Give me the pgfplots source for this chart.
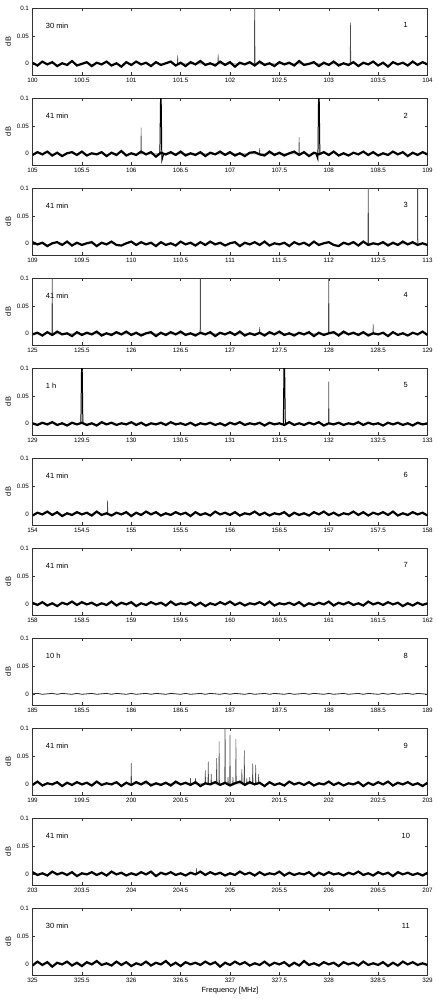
\documentclass[border=0pt]{standalone}
\usepackage{fontspec}
\setmainfont{Liberation Sans}
\usepackage{pgfplots}
\pgfplotsset{compat=1.18}
\newcommand\lab{\fontsize{7.5}{9}\selectfont}
\newcommand\tlab{\fontsize{6.3}{7.5}\selectfont}
\pgfplotsset{
  panel/.style={
    scale only axis, width=395bp, height=67bp, anchor=north west,
    ymin=-0.02, ymax=0.1, ytick={0,0.05,0.1},
    xtick distance=0.5, scaled ticks=false,
    axis line style={black!80, line width=0.5pt},
    major tick length=3bp,
    tick style={black!80, line width=0.4pt},
    ticklabel style={font=\tlab},
    /pgf/number format/assume math mode=true,
    x tick label style={/pgf/number format/.cd, fixed, precision=1, /tikz/.cd},
    y tick label style={/pgf/number format/.cd, fixed, precision=2, /tikz/.cd},
    ylabel={dB}, ylabel style={font=\lab, yshift=-1bp},
    clip=true,
  },
  noise/.style={black, line width=2.2pt, line join=miter, miter limit=3},
  peak/.style={black!70, line width=0.5pt},
  bigpeak/.style={black, line width=1.0pt},
}
\begin{document}
\begin{tikzpicture}
% ---------- 1
\begin{axis}[panel, at={(0bp,0bp)}, xmin=100, xmax=104]
\addplot[peak] coordinates {(101.466,0)(101.47,0.015)(101.474,0)(101.876,0)(101.88,0.018)(101.884,0)(102.246,0)(102.25,0.15)(102.254,0)(103.216,0)(103.22,0.074)(103.224,0)};
\addplot[noise] coordinates {(100,0.002)(100.05,-0.003)(100.1,0.004)(100.15,-0.001)(100.2,0.003)(100.25,-0.004)(100.3,0.001)(100.35,-0.002)(100.4,0.005)
(100.45,-0.003)(100.5,0)(100.55,0.003)(100.6,-0.004)(100.65,0.002)(100.7,-0.001)(100.75,0.004)(100.8,-0.003)(100.85,0.001)
(100.9,-0.005)(100.95,0.003)(101,-0.002)(101.05,0.004)(101.1,-0.001)(101.15,0.002)(101.2,-0.004)(101.25,0.003)(101.3,-0.002)
(101.35,0.001)(101.4,0.004)(101.45,-0.003)(101.5,0.002)(101.55,-0.004)(101.6,0.003)(101.65,-0.001)(101.7,0.005)(101.75,-0.002)
(101.8,0.001)(101.85,-0.003)(101.9,0.004)(101.95,-0.002)(102,0.003)(102.05,-0.005)(102.1,0.002)(102.15,-0.001)(102.2,0.003)
(102.25,-0.003)(102.3,0.004)(102.35,-0.002)(102.4,0.001)(102.45,-0.004)(102.5,0.003)(102.55,-0.001)(102.6,0.002)(102.65,-0.003)
(102.7,0.005)(102.75,-0.002)(102.8,0)(102.85,0.003)(102.9,-0.004)(102.95,0.002)(103,-0.002)(103.05,0.004)(103.1,-0.003)
(103.15,0.001)(103.2,-0.002)(103.25,0.003)(103.3,-0.004)(103.35,0.002)(103.4,-0.001)(103.45,0.004)(103.5,-0.003)(103.55,0.002)
(103.6,-0.005)(103.65,0.003)(103.7,-0.001)(103.75,0.002)(103.8,-0.003)(103.85,0.004)(103.9,-0.002)(103.95,0.003)(104,-0.001)};
\node[anchor=west,font=\lab] at (rel axis cs:0.025,0.74) {30 min};
\node[font=\lab] at (rel axis cs:0.945,0.74) {1};
\end{axis}
% ---------- 2
\begin{axis}[panel, at={(0bp,-90bp)}, xmin=105, xmax=109]
\addplot[peak] coordinates {(106.096,0)(106.1,0.047)(106.104,0)(107.296,0)(107.3,0.01)(107.304,0)(107.696,0)(107.7,0.03)(107.704,0)};
\addplot[bigpeak] coordinates {(106.29,0)(106.3,0.15)(106.31,-0.012)(106.33,0)};
\addplot[bigpeak] coordinates {(107.87,0)(107.89,-0.01)(107.9,0.15)(107.91,0)};
\addplot[noise] coordinates {(105,-0.002)(105.05,0.003)(105.1,-0.001)(105.15,0.004)(105.2,-0.003)(105.25,0.002)(105.3,-0.004)(105.35,0.001)(105.4,0.003)
(105.45,-0.002)(105.5,0.004)(105.55,-0.003)(105.6,0.001)(105.65,-0.001)(105.7,0.003)(105.75,-0.004)(105.8,0.002)(105.85,-0.002)
(105.9,0.005)(105.95,-0.003)(106,0.001)(106.05,-0.002)(106.1,0.004)(106.15,-0.001)(106.2,0.003)(106.25,-0.005)(106.3,0.002)
(106.35,-0.001)(106.4,0.003)(106.45,-0.002)(106.5,0.004)(106.55,-0.003)(106.6,0.001)(106.65,-0.002)(106.7,0.003)(106.75,-0.004)
(106.8,0.002)(106.85,-0.001)(106.9,0.004)(106.95,-0.002)(107,0.003)(107.05,-0.003)(107.1,0.001)(107.15,-0.004)(107.2,0.002)
(107.25,0.003)(107.3,-0.001)(107.35,-0.003)(107.4,0.004)(107.45,-0.002)(107.5,0.002)(107.55,-0.003)(107.6,0.001)(107.65,0.004)
(107.7,-0.002)(107.75,0.003)(107.8,-0.004)(107.85,0.002)(107.9,-0.001)(107.95,0.003)(108,-0.002)(108.05,0.004)(108.1,-0.003)
(108.15,0.001)(108.2,-0.003)(108.25,0.002)(108.3,-0.001)(108.35,0.004)(108.4,-0.002)(108.45,0.003)(108.5,-0.003)(108.55,0.001)
(108.6,-0.002)(108.65,0.004)(108.7,-0.001)(108.75,0.003)(108.8,-0.004)(108.85,0.002)(108.9,-0.002)(108.95,0.003)(109,-0.001)};
\node[anchor=west,font=\lab] at (rel axis cs:0.025,0.74) {41 min};
\node[font=\lab] at (rel axis cs:0.945,0.74) {2};
\end{axis}
% ---------- 3
\begin{axis}[panel, at={(0bp,-180bp)}, xmin=109, xmax=113]
\addplot[peak] coordinates {(112.396,0)(112.4,0.15)(112.404,0)(112.896,0)(112.9,0.15)(112.904,0)};
\addplot[noise] coordinates {(109,0.003)(109.05,-0.001)(109.1,0.002)(109.15,-0.004)(109.2,0.001)(109.25,0.003)(109.3,-0.002)(109.35,0.004)(109.4,-0.003)
(109.45,0.002)(109.5,-0.002)(109.55,0.001)(109.6,0.003)(109.65,-0.004)(109.7,0.002)(109.75,-0.001)(109.8,0.004)(109.85,-0.002)
(109.9,-0.003)(109.95,0.001)(110,0.004)(110.05,-0.002)(110.1,0.003)(110.15,-0.001)(110.2,0.002)(110.25,-0.004)(110.3,0.003)
(110.35,-0.002)(110.4,0.001)(110.45,-0.003)(110.5,0.004)(110.55,-0.001)(110.6,0.002)(110.65,-0.003)(110.7,0.003)(110.75,-0.002)
(110.8,0.004)(110.85,-0.001)(110.9,0.002)(110.95,-0.003)(111,0.001)(111.05,0.003)(111.1,-0.004)(111.15,0.002)(111.2,-0.001)
(111.25,0.003)(111.3,-0.002)(111.35,0.004)(111.4,-0.003)(111.45,0.001)(111.5,-0.001)(111.55,0.002)(111.6,-0.004)(111.65,0.003)
(111.7,-0.001)(111.75,0.002)(111.8,-0.003)(111.85,0.004)(111.9,-0.002)(111.95,0.001)(112,0.003)(112.05,-0.002)(112.1,-0.004)
(112.15,0.002)(112.2,-0.001)(112.25,0.003)(112.3,-0.003)(112.35,0.004)(112.4,-0.002)(112.45,0.001)(112.5,-0.001)(112.55,0.003)
(112.6,-0.003)(112.65,0.002)(112.7,-0.002)(112.75,0.004)(112.8,-0.001)(112.85,0.003)(112.9,-0.002)(112.95,0.001)(113,-0.002)};
\node[anchor=west,font=\lab] at (rel axis cs:0.025,0.74) {41 min};
\node[font=\lab] at (rel axis cs:0.945,0.74) {3};
\end{axis}
% ---------- 4
\begin{axis}[panel, at={(0bp,-270bp)}, xmin=125, xmax=129]
\addplot[peak] coordinates {(125.196,0)(125.2,0.15)(125.204,0)(126.696,0)(126.7,0.15)(126.704,0)(127.296,0)(127.3,0.012)(127.304,0)(127.996,0)(128,0.15)(128.004,0)(128.446,0)(128.45,0.018)(128.454,0)};
\addplot[noise] coordinates {(125,-0.001)(125.05,0.002)(125.1,-0.003)(125.15,0.003)(125.2,-0.002)(125.25,0.004)(125.3,-0.001)(125.35,0.001)(125.4,-0.004)
(125.45,0.003)(125.5,-0.002)(125.55,0.002)(125.6,-0.001)(125.65,0.004)(125.7,-0.003)(125.75,0.001)(125.8,-0.002)(125.85,0.003)
(125.9,-0.001)(125.95,0.004)(126,-0.002)(126.05,0.002)(126.1,-0.003)(126.15,0.001)(126.2,0.003)(126.25,-0.004)(126.3,0.002)
(126.35,-0.002)(126.4,0.003)(126.45,-0.001)(126.5,0.004)(126.55,-0.002)(126.6,0.001)(126.65,-0.003)(126.7,0.002)(126.75,-0.001)
(126.8,0.003)(126.85,-0.004)(126.9,0.002)(126.95,-0.001)(127,0.003)(127.05,-0.002)(127.1,0.004)(127.15,-0.003)(127.2,0.001)
(127.25,-0.002)(127.3,0.002)(127.35,-0.003)(127.4,0.003)(127.45,-0.001)(127.5,0.004)(127.55,-0.002)(127.6,0.001)(127.65,-0.003)
(127.7,0.002)(127.75,-0.001)(127.8,0.003)(127.85,-0.004)(127.9,0.002)(127.95,-0.002)(128,0.001)(128.05,0.003)(128.1,-0.003)
(128.15,0.004)(128.2,-0.001)(128.25,0.002)(128.3,-0.002)(128.35,0.003)(128.4,-0.003)(128.45,0.001)(128.5,-0.001)(128.55,0.002)
(128.6,-0.004)(128.65,0.003)(128.7,-0.002)(128.75,0.001)(128.8,-0.003)(128.85,0.002)(128.9,-0.001)(128.95,0.004)(129,-0.002)};
\node[anchor=west,font=\lab] at (rel axis cs:0.025,0.74) {41 min};
\node[font=\lab] at (rel axis cs:0.945,0.74) {4};
\end{axis}
% ---------- 5
\begin{axis}[panel, at={(0bp,-360bp)}, xmin=129, xmax=133]
\addplot[bigpeak] coordinates {(129.49,0)(129.5,0.15)(129.51,0)};
\addplot[bigpeak] coordinates {(131.54,0)(131.55,0.15)(131.56,0)};
\addplot[peak] coordinates {(131.996,0)(132,0.0755)(132.004,0)};
\addplot[noise] coordinates {(129,0.001)(129.05,-0.002)(129.1,0.002)(129.15,-0.001)(129.2,0.003)(129.25,-0.002)(129.3,0.001)(129.35,-0.003)(129.4,0.002)
(129.45,-0.001)(129.5,0.002)(129.55,-0.002)(129.6,0.001)(129.65,-0.003)(129.7,0.003)(129.75,-0.001)(129.8,0.002)(129.85,-0.002)
(129.9,0.001)(129.95,-0.001)(130,0.003)(130.05,-0.002)(130.1,0.002)(130.15,-0.003)(130.2,0.001)(130.25,-0.001)(130.3,0.002)
(130.35,-0.002)(130.4,0.003)(130.45,-0.001)(130.5,0.001)(130.55,-0.002)(130.6,0.002)(130.65,-0.003)(130.7,0.001)(130.75,-0.001)
(130.8,0.002)(130.85,-0.002)(130.9,0.001)(130.95,-0.003)(131,0.002)(131.05,-0.001)(131.1,0.003)(131.15,-0.002)(131.2,0.001)
(131.25,-0.001)(131.3,0.002)(131.35,-0.003)(131.4,0.002)(131.45,-0.001)(131.5,0.001)(131.55,-0.002)(131.6,0.003)(131.65,-0.002)
(131.7,0.001)(131.75,-0.002)(131.8,0.002)(131.85,-0.001)(131.9,0.003)(131.95,-0.003)(132,0.001)(132.05,-0.001)(132.1,0.002)
(132.15,-0.002)(132.2,0.001)(132.25,-0.001)(132.3,0.003)(132.35,-0.002)(132.4,0.002)(132.45,-0.001)(132.5,0.001)(132.55,-0.003)
(132.6,0.002)(132.65,-0.001)(132.7,0.002)(132.75,-0.002)(132.8,0.001)(132.85,-0.003)(132.9,0.002)(132.95,-0.001)(133,0.001)};
\node[anchor=west,font=\lab] at (rel axis cs:0.025,0.74) {1 h};
\node[font=\lab] at (rel axis cs:0.945,0.74) {5};
\end{axis}
% ---------- 6
\begin{axis}[panel, at={(0bp,-450bp)}, xmin=154, xmax=158]
\addplot[peak] coordinates {(154.756,0)(154.76,0.024)(154.764,0)};
\addplot[noise] coordinates {(154,-0.003)(154.05,0.002)(154.1,-0.001)(154.15,0.004)(154.2,-0.002)(154.25,0.003)(154.3,-0.004)(154.35,0.001)(154.4,-0.002)
(154.45,0.003)(154.5,-0.001)(154.55,0.002)(154.6,-0.003)(154.65,0.004)(154.7,-0.002)(154.75,0.001)(154.8,-0.003)(154.85,0.002)
(154.9,-0.001)(154.95,0.003)(155,-0.004)(155.05,0.002)(155.1,-0.002)(155.15,0.004)(155.2,-0.001)(155.25,0.003)(155.3,-0.003)
(155.35,0.001)(155.4,-0.002)(155.45,0.003)(155.5,-0.001)(155.55,0.002)(155.6,-0.004)(155.65,0.003)(155.7,-0.002)(155.75,0.001)
(155.8,-0.003)(155.85,0.004)(155.9,-0.001)(155.95,0.002)(156,-0.002)(156.05,0.003)(156.1,-0.003)(156.15,0.001)(156.2,-0.001)
(156.25,0.004)(156.3,-0.002)(156.35,0.002)(156.4,-0.003)(156.45,0.001)(156.5,-0.001)(156.55,0.003)(156.6,-0.004)(156.65,0.002)
(156.7,-0.002)(156.75,0.001)(156.8,-0.003)(156.85,0.003)(156.9,-0.001)(156.95,0.004)(157,-0.002)(157.05,0.002)(157.1,-0.003)
(157.15,0.001)(157.2,-0.001)(157.25,0.004)(157.3,-0.002)(157.35,0.003)(157.4,-0.003)(157.45,0.002)(157.5,-0.001)(157.55,0.003)
(157.6,-0.002)(157.65,0.004)(157.7,-0.003)(157.75,0.001)(157.8,-0.002)(157.85,0.003)(157.9,-0.001)(157.95,0.002)(158,-0.003)};
\node[anchor=west,font=\lab] at (rel axis cs:0.025,0.74) {41 min};
\node[font=\lab] at (rel axis cs:0.945,0.74) {6};
\end{axis}
% ---------- 7
\begin{axis}[panel, at={(0bp,-540bp)}, xmin=158, xmax=162]
\addplot[noise] coordinates {(158,0.002)(158.05,-0.002)(158.1,0.003)(158.15,-0.003)(158.2,0.001)(158.25,-0.004)(158.3,0.002)(158.35,-0.001)(158.4,0.004)
(158.45,-0.002)(158.5,0.003)(158.55,-0.001)(158.6,0.002)(158.65,-0.003)(158.7,0.001)(158.75,-0.002)(158.8,0.004)(158.85,-0.003)
(158.9,0.002)(158.95,-0.001)(159,0.003)(159.05,-0.004)(159.1,0.001)(159.15,-0.002)(159.2,0.003)(159.25,-0.001)(159.3,0.002)
(159.35,-0.003)(159.4,0.004)(159.45,-0.002)(159.5,0.001)(159.55,-0.001)(159.6,0.003)(159.65,-0.003)(159.7,0.002)(159.75,-0.004)
(159.8,0.001)(159.85,-0.002)(159.9,0.003)(159.95,-0.001)(160,0.004)(160.05,-0.002)(160.1,0.002)(160.15,-0.003)(160.2,0.001)
(160.25,-0.001)(160.3,0.003)(160.35,-0.002)(160.4,0.004)(160.45,-0.003)(160.5,0.001)(160.55,-0.001)(160.6,0.002)(160.65,-0.002)
(160.7,0.003)(160.75,-0.004)(160.8,0.001)(160.85,-0.002)(160.9,0.002)(160.95,-0.001)(161,0.004)(161.05,-0.003)(161.1,0.002)
(161.15,-0.001)(161.2,0.003)(161.25,-0.002)(161.3,0.001)(161.35,-0.003)(161.4,0.004)(161.45,-0.001)(161.5,0.002)(161.55,-0.002)
(161.6,0.003)(161.65,-0.001)(161.7,0.002)(161.75,-0.004)(161.8,0.001)(161.85,-0.003)(161.9,0.002)(161.95,-0.002)(162,0.001)};
\node[anchor=west,font=\lab] at (rel axis cs:0.025,0.74) {41 min};
\node[font=\lab] at (rel axis cs:0.945,0.74) {7};
\end{axis}
% ---------- 8
\begin{axis}[panel, at={(0bp,-630bp)}, xmin=185, xmax=189]
\addplot[black!85, line width=0.8pt] coordinates {(185,0)(185.05,0.0008)(185.1,-0.0008)(185.15,0)(185.2,0.0008)(185.25,-0.0008)(185.3,0.0008)(185.35,0)(185.4,-0.0008)
(185.45,0.0008)(185.5,-0.0008)(185.55,0)(185.6,0.0008)(185.65,-0.0008)(185.7,0)(185.75,0.0008)(185.8,-0.0008)(185.85,0.0008)
(185.9,0)(185.95,-0.0008)(186,0.0008)(186.05,-0.0008)(186.1,0)(186.15,0.0008)(186.2,-0.0008)(186.25,0.0008)(186.3,0)
(186.35,-0.0008)(186.4,0.0008)(186.45,0)(186.5,-0.0008)(186.55,0.0008)(186.6,-0.0008)(186.65,0)(186.7,0.0008)(186.75,-0.0008)
(186.8,0.0008)(186.85,0)(186.9,-0.0008)(186.95,0.0008)(187,-0.0008)(187.05,0.0008)(187.1,0)(187.15,-0.0008)(187.2,0.0008)
(187.25,-0.0008)(187.3,0)(187.35,0.0008)(187.4,-0.0008)(187.45,0.0008)(187.5,0)(187.55,-0.0008)(187.6,0.0008)(187.65,-0.0008)
(187.7,0)(187.75,0.0008)(187.8,-0.0008)(187.85,0.0008)(187.9,0)(187.95,-0.0008)(188,0.0008)(188.05,-0.0008)(188.1,0)
(188.15,0.0008)(188.2,-0.0008)(188.25,0)(188.3,0.0008)(188.35,-0.0008)(188.4,0.0008)(188.45,0)(188.5,-0.0008)(188.55,0.0008)
(188.6,-0.0008)(188.65,0.0008)(188.7,-0.0008)(188.75,0)(188.8,0.0008)(188.85,-0.0008)(188.9,0.0008)(188.95,0)(189,-0.0008)};
\node[anchor=west,font=\lab] at (rel axis cs:0.025,0.74) {10 h};
\node[font=\lab] at (rel axis cs:0.945,0.74) {8};
\end{axis}
% ---------- 9
\begin{axis}[panel, at={(0bp,-720bp)}, xmin=199, xmax=203]
\addplot[peak] coordinates {(199.996,0)(200,0.037)(200.004,0)
(200.596,0)(200.6,0.01)(200.604,0)(200.646,0)(200.65,0.01)(200.654,0)
(200.746,0)(200.75,0.024)(200.754,0)(200.776,0)(200.78,0.04)(200.784,0)(200.806,0)(200.81,0.018)(200.814,0)
(200.861,0)(200.865,0.046)(200.869,0)(200.886,0)(200.89,0.076)(200.894,0)(200.946,0)(200.95,0.15)(200.954,0)
(200.976,0)(200.98,0.012)(200.984,0)(200.996,0)(201,0.0875)(201.004,0)(201.026,0)(201.03,0.012)(201.034,0)
(201.056,0)(201.06,0.08)(201.064,0)(201.116,0)(201.12,0.027)(201.124,0)(201.141,0)(201.145,0.06)(201.149,0)
(201.166,0)(201.17,0.01)(201.174,0)(201.196,0)(201.2,0.012)(201.204,0)(201.226,0)(201.23,0.036)(201.234,0)
(201.256,0)(201.26,0.034)(201.264,0)(201.286,0)(201.29,0.018)(201.294,0)};
\addplot[noise] coordinates {(199,-0.002)(199.05,0.004)(199.1,-0.003)(199.15,0.001)(199.2,-0.001)(199.25,0.003)(199.3,-0.004)(199.35,0.002)(199.4,-0.002)
(199.45,0.003)(199.5,-0.001)(199.55,0.002)(199.6,-0.003)(199.65,0.004)(199.7,-0.002)(199.75,0.001)(199.8,-0.001)(199.85,0.003)
(199.9,-0.004)(199.95,0.002)(200,-0.002)(200.05,0.003)(200.1,-0.001)(200.15,0.004)(200.2,-0.003)(200.25,0.001)(200.3,-0.002)
(200.35,0.002)(200.4,-0.003)(200.45,0.004)(200.5,-0.001)(200.55,0.002)(200.6,-0.002)(200.65,0.003)(200.7,-0.004)(200.75,0.001)
(200.8,-0.001)(200.85,0.003)(200.9,-0.002)(200.95,0.002)(201,-0.003)(201.05,0.001)(201.1,0.004)(201.15,-0.002)(201.2,0.003)
(201.25,-0.001)(201.3,0.002)(201.35,-0.004)(201.4,0.003)(201.45,-0.002)(201.5,0.001)(201.55,-0.003)(201.6,0.004)(201.65,-0.001)
(201.7,0.002)(201.75,-0.002)(201.8,0.003)(201.85,-0.003)(201.9,0.001)(201.95,-0.001)(202,0.004)(202.05,-0.002)(202.1,0.002)
(202.15,-0.003)(202.2,0.001)(202.25,-0.001)(202.3,0.003)(202.35,-0.004)(202.4,0.002)(202.45,-0.002)(202.5,0.003)(202.55,-0.001)
(202.6,0.004)(202.65,-0.003)(202.7,0.002)(202.75,-0.001)(202.8,0.003)(202.85,-0.002)(202.9,0.001)(202.95,-0.004)(203,0.002)};
\node[anchor=west,font=\lab] at (rel axis cs:0.025,0.74) {41 min};
\node[font=\lab] at (rel axis cs:0.945,0.74) {9};
\end{axis}
% ---------- 10
\begin{axis}[panel, at={(0bp,-810bp)}, xmin=203, xmax=207]
\addplot[peak] coordinates {(204.656,0)(204.66,0.01)(204.664,0)};
\addplot[noise] coordinates {(203,0.003)(203.05,-0.002)(203.1,0.001)(203.15,-0.003)(203.2,0.004)(203.25,-0.001)(203.3,0.002)(203.35,-0.002)(203.4,0.003)
(203.45,-0.004)(203.5,0.001)(203.55,-0.001)(203.6,0.003)(203.65,-0.002)(203.7,0.002)(203.75,-0.003)(203.8,0.004)(203.85,-0.001)
(203.9,0.002)(203.95,-0.003)(204,0.001)(204.05,-0.002)(204.1,0.003)(204.15,-0.001)(204.2,0.004)(204.25,-0.004)(204.3,0.002)
(204.35,-0.001)(204.4,0.003)(204.45,-0.002)(204.5,0.001)(204.55,-0.003)(204.6,0.002)(204.65,-0.001)(204.7,0.004)(204.75,-0.002)
(204.8,0.003)(204.85,-0.001)(204.9,0.002)(204.95,-0.003)(205,0.001)(205.05,-0.002)(205.1,0.004)(205.15,-0.001)(205.2,0.002)
(205.25,-0.003)(205.3,0.003)(205.35,-0.002)(205.4,0.001)(205.45,-0.001)(205.5,0.004)(205.55,-0.003)(205.6,0.002)(205.65,-0.002)
(205.7,0.001)(205.75,-0.001)(205.8,0.003)(205.85,-0.004)(205.9,0.002)(205.95,-0.002)(206,0.003)(206.05,-0.001)(206.1,0.001)
(206.15,-0.003)(206.2,0.002)(206.25,-0.001)(206.3,0.004)(206.35,-0.002)(206.4,0.001)(206.45,-0.003)(206.5,0.003)(206.55,-0.001)
(206.6,0.002)(206.65,-0.004)(206.7,0.003)(206.75,-0.001)(206.8,0.002)(206.85,-0.002)(206.9,0.001)(206.95,-0.003)(207,0.002)};
\node[anchor=west,font=\lab] at (rel axis cs:0.025,0.74) {41 min};
\node[font=\lab] at (rel axis cs:0.945,0.74) {10};
\end{axis}
% ---------- 11
\begin{axis}[panel, at={(0bp,-900bp)}, xmin=325, xmax=329, xlabel={Frequency [MHz]}, xlabel style={font=\lab, inner sep=1bp, yshift=0bp}]
\addplot[noise] coordinates {(325,-0.003)(325.05,0.004)(325.1,-0.002)(325.15,0.003)(325.2,-0.005)(325.25,0.002)(325.3,-0.001)(325.35,0.004)(325.4,-0.003)
(325.45,0.002)(325.5,-0.004)(325.55,0.003)(325.6,-0.001)(325.65,0.005)(325.7,-0.002)(325.75,0.001)(325.8,-0.003)(325.85,0.004)
(325.9,-0.002)(325.95,0.003)(326,-0.004)(326.05,0.001)(326.1,-0.002)(326.15,0.004)(326.2,-0.003)(326.25,0.002)(326.3,-0.001)
(326.35,0.005)(326.4,-0.003)(326.45,0.002)(326.5,-0.004)(326.55,0.003)(326.6,-0.001)(326.65,0.002)(326.7,-0.002)(326.75,0.004)
(326.8,-0.001)(326.85,0.003)(326.9,-0.005)(326.95,0.002)(327,-0.002)(327.05,0.004)(327.1,-0.001)(327.15,0.003)(327.2,-0.003)
(327.25,0.001)(327.3,-0.002)(327.35,0.004)(327.4,-0.003)(327.45,0.002)(327.5,-0.001)(327.55,0.003)(327.6,-0.004)(327.65,0.002)
(327.7,-0.003)(327.75,0.005)(327.8,-0.002)(327.85,0.001)(327.9,-0.003)(327.95,0.003)(328,-0.001)(328.05,0.002)(328.1,-0.004)
(328.15,0.003)(328.2,-0.001)(328.25,0.002)(328.3,-0.003)(328.35,0.004)(328.4,-0.002)(328.45,0.001)(328.5,-0.002)(328.55,0.003)
(328.6,-0.004)(328.65,0.002)(328.7,-0.003)(328.75,0.004)(328.8,-0.001)(328.85,0.003)(328.9,-0.002)(328.95,0.001)(329,-0.002)};
\node[anchor=west,font=\lab] at (rel axis cs:0.025,0.74) {30 min};
\node[font=\lab] at (rel axis cs:0.945,0.74) {11};
\end{axis}
\pgfresetboundingbox
\path[use as bounding box] (-32.5bp,8bp) rectangle (404.5bp,-991bp);
\end{tikzpicture}
\end{document}
